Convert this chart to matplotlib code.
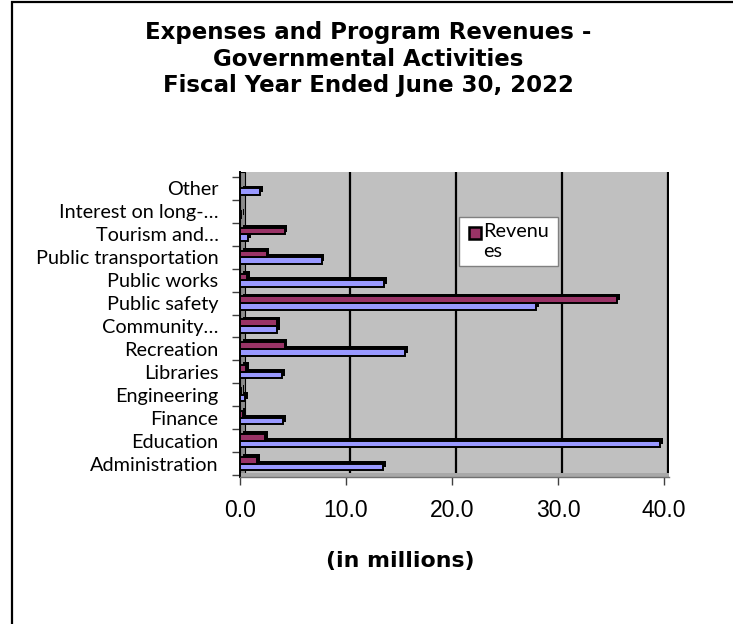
import matplotlib
matplotlib.use("Agg")
import matplotlib.pyplot as plt
import matplotlib.patheffects as pe
from matplotlib.patches import Rectangle
from matplotlib.legend_handler import HandlerPatch
from matplotlib.transforms import ScaledTranslation
import numpy as np

# Governmental activities, fiscal year ended June 30, 2022 (in millions)
categories = [
    "Administration", "Education", "Finance", "Engineering", "Libraries",
    "Recreation", "Community\u2026", "Public safety", "Public works",
    "Public transportation", "Tourism and\u2026", "Interest on long-\u2026", "Other",
]
expenses = [13.5, 39.6, 4.1, 0.5, 4.0, 15.6, 3.5, 27.9, 13.6, 7.7, 0.75, 0.1, 1.9]
revenues = [1.6, 2.4, 0.3, 0.1, 0.6, 4.2, 3.5, 35.6, 0.7, 2.5, 4.2, 0.0, 0.0]
x_ticks = [0, 10, 20, 30, 40]
x_tick_labels = ["0.0", "10.0", "20.0", "30.0", "40.0"]

title = "Expenses and Program Revenues -\nGovernmental Activities\nFiscal Year Ended June 30, 2022"
x_label = "(in millions)"
legend_label = "Revenu\nes"

W, H = 733, 624
fig = plt.figure(figsize=(W / 100, H / 100), dpi=100)


def fx(px):
    return px / W


def fy(py):
    return 1 - py / H


# outer chart frame (left and top edges visible)
fig.patches.append(Rectangle((fx(12), -0.05), 1.2, fy(2) + 0.05, transform=fig.transFigure,
                             fill=False, edgecolor="black", linewidth=1.6))

ax_left, ax_right, ax_top, ax_bottom = 240, 669, 172, 477
ax = fig.add_axes([fx(ax_left), fy(ax_bottom), fx(ax_right) - fx(ax_left), fy(ax_top) - fy(ax_bottom)])
ax.set_facecolor("#C0C0C0")

px_per_unit = 10.6
ax.set_xlim(0, (ax_right - ax_left) / px_per_unit)
row_px = 22.9
ax.set_ylim(-0.5 - 2 / row_px, len(categories) - 0.5 + 5 / row_px)

# back-wall gridlines, pushed back by the chart depth
depth_shift = ScaledTranslation(4 / 100, 0, fig.dpi_scale_trans)
ax.vlines(x_ticks[1:], 0, 1, transform=ax.get_xaxis_transform() + depth_shift,
          colors="black", linewidth=1.6, zorder=1)

# side wall and floor
ax.add_patch(Rectangle((0, 0), 5 / (ax_right - ax_left), 1, transform=ax.transAxes,
                       facecolor="#8C8C8C", edgecolor="black", linewidth=0.8, zorder=1.5))
ax.add_patch(Rectangle((0, 0), 1, 4 / (ax_bottom - ax_top), transform=ax.transAxes,
                       facecolor="#A8A8A8", edgecolor="none", zorder=1.5))

y = np.arange(len(categories))
h = 0.29
depth = [pe.SimplePatchShadow(offset=(2.0, 2.0), shadow_rgbFace="black", alpha=1.0), pe.Normal()]
ax.barh(y - h / 2, expenses, height=h, color="#9999FF", edgecolor="black",
        linewidth=1.4, path_effects=depth, zorder=3)
rev_bars = ax.barh(y + h / 2, revenues, height=h, color="#993366", edgecolor="black",
                   linewidth=1.4, path_effects=depth, zorder=3)

# axes styling
for side in ("top", "right"):
    ax.spines[side].set_visible(False)
ax.spines["left"].set_color("black")
ax.spines["left"].set_linewidth(1.4)
ax.spines["bottom"].set_color("#707070")
ax.spines["bottom"].set_linewidth(1.0)

ax.set_yticks(y)
ax.set_yticklabels(categories, family=["Lato", "DejaVu Sans"], fontsize=14.3)
ax.set_yticks(np.arange(len(categories) + 1) - 0.5, minor=True)
ax.tick_params(axis="y", which="major", length=0, pad=15.5)
ax.tick_params(axis="y", which="minor", length=5.5, width=1.0, color="#404040")

ax.set_xticks(x_ticks)
ax.set_xticklabels(x_tick_labels, family="Liberation Sans", fontsize=16.5)
ax.tick_params(axis="x", length=5.5, width=1.0, color="#404040", pad=10)

ax.set_xlabel(x_label, family="DejaVu Sans", fontweight="bold", fontsize=15.8, va="center")
ax.xaxis.set_label_coords((400 - ax_left) / (ax_right - ax_left),
                          -(561 - ax_bottom) / (ax_bottom - ax_top))

fig.text(0.5 * (fx(12) + 1) - 0.006, fy(59), title, ha="center", va="center",
         family="DejaVu Sans", fontweight="bold", fontsize=16.5, linespacing=1.2)


def top_square(legend, orig_handle, xdescent, ydescent, width, height, fontsize):
    # square marker sitting beside the first line of the wrapped label
    return Rectangle((-xdescent + width - height, -ydescent + fontsize * 0.42), height, height)


leg = ax.legend([rev_bars[0]], [legend_label], loc="upper left", mode="expand",
                bbox_to_anchor=(fx(459), fy(269), fx(558) - fx(459), fy(217) - fy(269)),
                bbox_transform=fig.transFigure, borderaxespad=0, borderpad=0.3,
                frameon=True, fancybox=False, framealpha=1, facecolor="white",
                edgecolor="#808080", handlelength=0.8, handleheight=0.55,
                handletextpad=0.1, prop={"family": "Lato", "size": 14.3},
                handler_map={Rectangle: HandlerPatch(patch_func=top_square)})
leg.get_frame().set_linewidth(1.0)
for patch in leg.get_patches():
    patch.set_edgecolor("black")
    patch.set_linewidth(1.8)
    patch.set_path_effects([])

fig.savefig("out.png", dpi=100)
